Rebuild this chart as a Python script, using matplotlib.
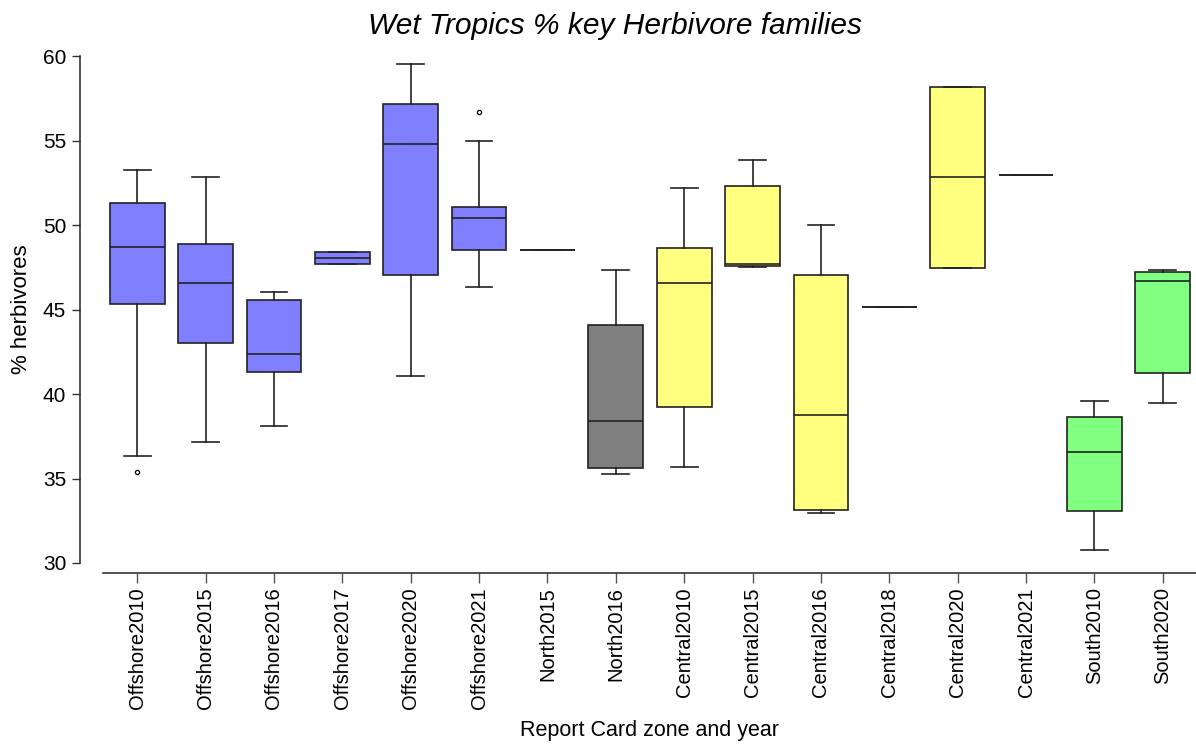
import numpy as np
import matplotlib
matplotlib.use("Agg")
import matplotlib.pyplot as plt

plt.rcParams['font.family'] = ['Liberation Sans', 'DejaVu Sans']

# zone/year groups and their box summaries (% herbivores)
groups = ["Offshore2010", "Offshore2015", "Offshore2016", "Offshore2017",
          "Offshore2020", "Offshore2021", "North2015", "North2016",
          "Central2010", "Central2015", "Central2016", "Central2018",
          "Central2020", "Central2021", "South2010", "South2020"]
whisker_lo = [36.33, 37.17, 38.12, 47.68, 41.08, 46.31, 48.50, 35.27,
              35.70, 47.53, 32.94, 45.15, 47.46, 52.94, 30.77, 39.49]
q1 = [45.30, 43.02, 41.28, 47.68, 47.05, 48.50, 48.50, 35.62,
      39.25, 47.59, 33.14, 45.15, 47.46, 52.94, 33.08, 41.26]
median = [48.68, 46.58, 42.34, 48.07, 54.81, 50.43, 48.50, 38.43,
          46.59, 47.71, 38.74, 45.15, 52.82, 52.94, 36.55, 46.67]
q3 = [51.29, 48.90, 45.58, 48.41, 57.14, 51.08, 48.50, 44.08,
      48.64, 52.31, 47.06, 45.15, 58.15, 52.94, 38.64, 47.20]
whisker_hi = [53.24, 52.86, 46.05, 48.41, 59.54, 54.99, 48.50, 47.31,
              52.17, 53.85, 50.00, 45.15, 58.15, 52.94, 39.60, 47.36]
outliers = {"Offshore2010": [35.37], "Offshore2021": [56.67]}

zone_colors = {"Offshore": "#8080ff", "North": "#808080",
               "Central": "#ffff80", "South": "#80ff80"}

stats = []
for i, g in enumerate(groups):
    stats.append(dict(label=g, whislo=whisker_lo[i], q1=q1[i], med=median[i],
                      q3=q3[i], whishi=whisker_hi[i],
                      fliers=outliers.get(g, [])))

fig = plt.figure(figsize=(11.96, 7.47), dpi=100)
ax = fig.add_axes([103 / 1196, 1 - 563 / 747, 1094 / 1196, 507 / 747])

pos = np.arange(len(groups))
bp = ax.bxp(stats, positions=pos, widths=0.8, capwidths=0.39,
            patch_artist=True,
            boxprops=dict(edgecolor="#222222", linewidth=1.2),
            medianprops=dict(color="#222222", linewidth=1.2),
            whiskerprops=dict(color="#222222", linewidth=1.2),
            capprops=dict(color="#222222", linewidth=1.2),
            flierprops=dict(marker="o", markersize=3, markerfacecolor="white",
                            markeredgecolor="black", markeredgewidth=0.9))

for patch, g in zip(bp["boxes"], groups):
    zone = g.rstrip("0123456789")
    patch.set_facecolor(zone_colors[zone])

ax.set_xlim(-0.5, len(groups) - 0.5)
ax.set_ylim(30, 60)
ax.set_yticks([30, 35, 40, 45, 50, 55, 60])
ax.set_xticks(pos, labels=groups)
ax.tick_params(axis="y", labelsize=15, length=6, width=1, color="#333333",
               direction="out", pad=4)
ax.tick_params(axis="x", labelsize=14.5, labelrotation=90, length=7.2,
               width=1, color="#555555", direction="out", pad=3)

for s in ["top", "right"]:
    ax.spines[s].set_visible(False)
ax.spines["left"].set_position(("outward", 16.5))
ax.spines["left"].set_bounds(30, 60)
ax.spines["bottom"].set_position(("outward", 7.2))
for s in ["left", "bottom"]:
    ax.spines[s].set_color("#222222")
    ax.spines[s].set_linewidth(1.1)

ax.set_ylabel("% herbivores", fontsize=16, labelpad=8)
ax.set_xlabel("Report Card zone and year", fontsize=15.5, labelpad=8)
fig.text(615 / 1196, 1 - 26 / 747, "Wet Tropics % key Herbivore families",
         fontsize=21.5, style="italic", ha="center", va="center")

fig.savefig("out.png", dpi=100)
